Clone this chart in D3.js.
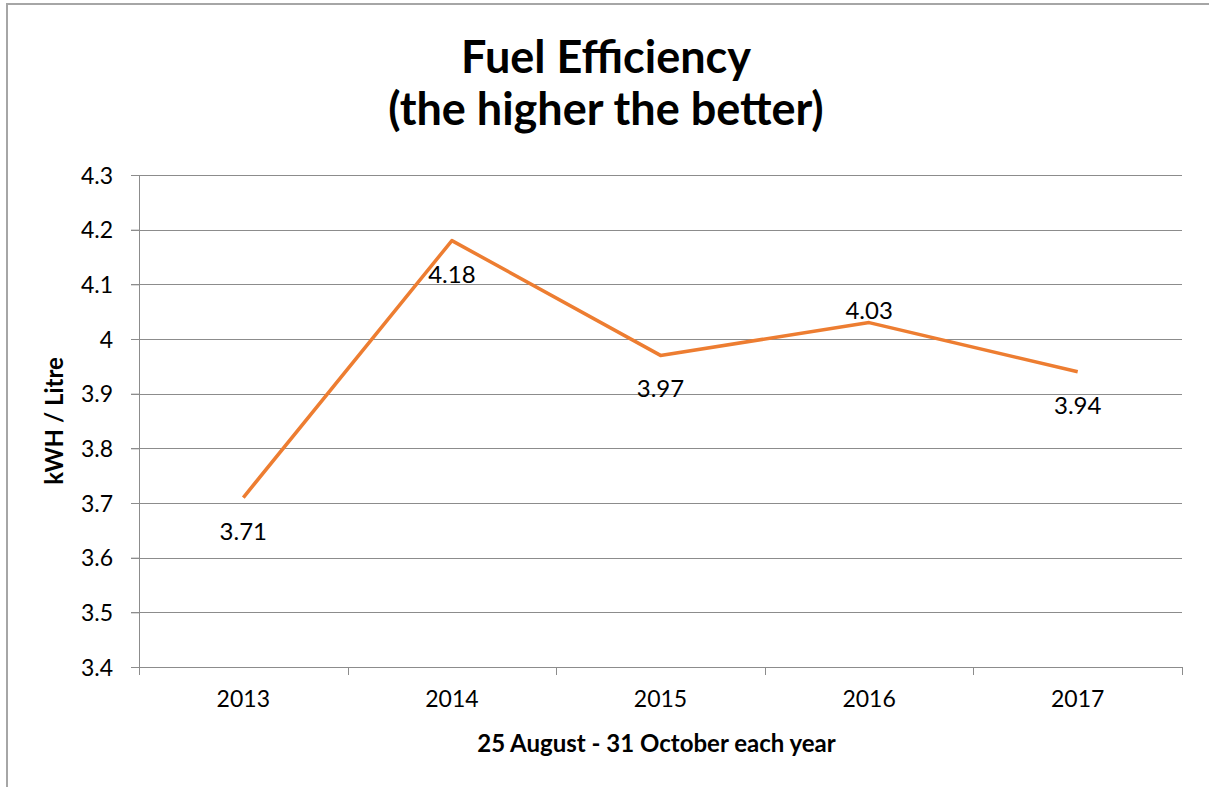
<!DOCTYPE html>
<html>
<head>
<meta charset="utf-8">
<script src="https://cdn.jsdelivr.net/npm/d3@7"></script>
<style>
  body { margin: 0; background: #fff; }
  svg text { font-family: Lato, "Open Sans", sans-serif; fill: #000; }
</style>
</head>
<body>
<div class="vis-linechart"></div>
<script>
// chart data
const years = ["2013", "2014", "2015", "2016", "2017"];
const efficiency = [3.71, 4.18, 3.97, 4.03, 3.94];
const yTicks = [3.4, 3.5, 3.6, 3.7, 3.8, 3.9, 4.0, 4.1, 4.2, 4.3];
const titleLines = ["Fuel Efficiency", "(the higher the better)"];
const xTitle = "25 August - 31 October each year";
const yTitle = "kWH / Litre";

const W = 1209, H = 787;
const margin = {top: 175, right: 27, bottom: 120, left: 139};
const width = W - margin.left - margin.right,
      height = H - margin.top - margin.bottom;

const data = years.map((y, i) => ({year: y, value: efficiency[i]}));

const svg = d3.select(".vis-linechart")
  .append("svg")
    .attr("width", W)
    .attr("height", H);

// outer chart frame (cut off at right / bottom like the screenshot)
svg.append("rect")
  .attr("x", 7).attr("y", 4)
  .attr("width", W + 20).attr("height", H + 20)
  .attr("fill", "none")
  .attr("stroke", "#a6a6a6")
  .attr("stroke-width", 2);

const g = svg.append("g")
  .attr("transform", "translate(" + margin.left + "," + margin.top + ")");

const x = d3.scaleBand()
  .domain(years)
  .range([0, width]);

const y = d3.scaleLinear()
  .domain([3.4, 4.3])
  .range([height, 0]);

// gridlines
g.append("g")
  .selectAll("line")
  .data(yTicks)
  .enter()
  .append("line")
    .attr("x1", -8)
    .attr("x2", width)
    .attr("y1", d => Math.round(y(d)) + 0.5)
    .attr("y2", d => Math.round(y(d)) + 0.5)
    .attr("stroke", "#8c8c8c")
    .attr("stroke-width", 1);

// y axis
const yAxis = g.append("g")
  .call(d3.axisLeft(y).tickValues(yTicks).tickSize(8).tickPadding(18)
    .tickFormat(d => d3.format("")(+d.toFixed(1))));
yAxis.select(".domain").attr("stroke", "#8c8c8c");
yAxis.selectAll(".tick line").attr("stroke", "#8c8c8c");
yAxis.selectAll("text").style("font-size", "23px").attr("dy", "0.36em");

// x axis
const xAxis = g.append("g")
  .attr("transform", "translate(0," + height + ")")
  .call(d3.axisBottom(x).tickSize(0).tickPadding(24));
xAxis.select(".domain").remove();
xAxis.selectAll("text").style("font-size", "23px");

// x tick marks at category boundaries
g.append("g")
  .selectAll("line")
  .data(years.concat(["end"]))
  .enter()
  .append("line")
    .attr("x1", (d, i) => Math.round(i * x.step()) + 0.5)
    .attr("x2", (d, i) => Math.round(i * x.step()) + 0.5)
    .attr("y1", height)
    .attr("y2", height + 8)
    .attr("stroke", "#8c8c8c");

// the line
const line = d3.line()
  .x(d => x(d.year) + x.bandwidth() / 2)
  .y(d => y(d.value));

g.append("path")
  .datum(data)
  .attr("d", line)
  .attr("fill", "none")
  .attr("stroke", "#ED7D31")
  .attr("stroke-width", 3.5)
  .attr("stroke-linejoin", "round");

// data labels
const labelAbove = new Set(["2016"]);
g.selectAll("datalabels")
  .data(data)
  .enter()
  .append("text")
    .attr("x", d => x(d.year) + x.bandwidth() / 2)
    .attr("y", d => y(d.value) + (labelAbove.has(d.year) ? -4 : 42))
    .attr("text-anchor", "middle")
    .style("font-size", "24px")
    .text(d => d.value);

// title
svg.selectAll("titlelines")
  .data(titleLines)
  .enter()
  .append("text")
    .attr("x", 606)
    .attr("y", (d, i) => 73 + i * 52)
    .attr("text-anchor", "middle")
    .style("font-size", "45px")
    .style("font-weight", "bold")
    .text(d => d);

// axis titles
svg.append("text")
  .attr("x", margin.left + width / 2 - 4)
  .attr("y", 752)
  .attr("text-anchor", "middle")
  .style("font-size", "24px")
  .style("font-weight", "bold")
  .text(xTitle);

svg.append("text")
  .attr("transform", "translate(63," + (margin.top + height / 2) + ") rotate(-90)")
  .attr("text-anchor", "middle")
  .style("font-size", "24px")
  .style("font-weight", "bold")
  .text(yTitle);
</script>
</body>
</html>
